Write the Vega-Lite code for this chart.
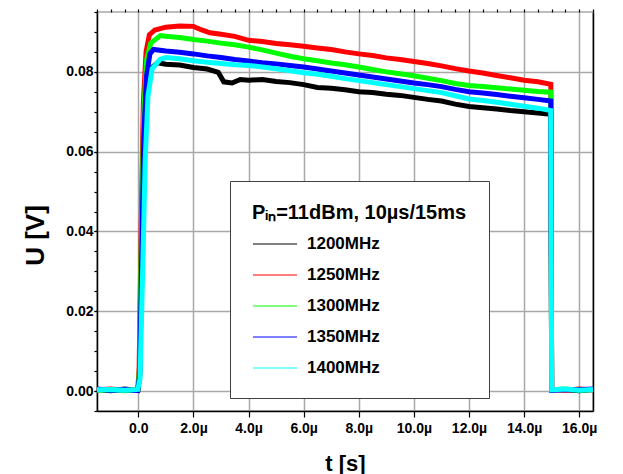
{
  "$schema": "https://vega.github.io/schema/vega-lite/v6.json",
  "width": 496,
  "height": 399,
  "autosize": {"type": "none"},
  "padding": {"left": 97, "top": 12, "right": 30, "bottom": 63},
  "background": "white",
  "config": {
    "font": "Liberation Sans",
    "view": {"stroke": "#a8a8a8", "strokeWidth": 1.5},
    "axis": {
      "labelFont": "Liberation Sans", "labelFontWeight": "bold", "labelFontSize": 14, "labelColor": "black",
      "domainColor": "black", "domainWidth": 1.5, "tickColor": "black", "tickWidth": 1.2,
      "titleFont": "Liberation Sans", "titleFontWeight": "bold", "titleColor": "black",
      "gridColor": "#a8a8a8", "gridWidth": 1.5, "gridOpacity": 1
    }
  },
  "datasets": {
    "traces": [
      {"f":"1200MHz","t":-1.5,"u":0.0004},{"f":"1200MHz","t":-1.0,"u":0.0001},{"f":"1200MHz","t":-0.5,"u":0.0005},{"f":"1200MHz","t":-0.02,"u":0.0002},
      {"f":"1200MHz","t":0.05,"u":0.004},{"f":"1200MHz","t":0.12,"u":0.030},{"f":"1200MHz","t":0.2,"u":0.062},{"f":"1200MHz","t":0.3,"u":0.076},
      {"f":"1200MHz","t":0.45,"u":0.0808},{"f":"1200MHz","t":0.7,"u":0.0823},{"f":"1200MHz","t":1.0,"u":0.0819},{"f":"1200MHz","t":1.5,"u":0.0817},
      {"f":"1200MHz","t":2.0,"u":0.0811},{"f":"1200MHz","t":2.5,"u":0.0807},{"f":"1200MHz","t":2.9,"u":0.0799},{"f":"1200MHz","t":3.1,"u":0.0775},
      {"f":"1200MHz","t":3.4,"u":0.0772},{"f":"1200MHz","t":3.7,"u":0.0781},{"f":"1200MHz","t":4.0,"u":0.0779},{"f":"1200MHz","t":4.5,"u":0.0781},
      {"f":"1200MHz","t":5.0,"u":0.0776},{"f":"1200MHz","t":5.5,"u":0.0773},{"f":"1200MHz","t":6.0,"u":0.0768},{"f":"1200MHz","t":6.5,"u":0.0761},
      {"f":"1200MHz","t":7.0,"u":0.0759},{"f":"1200MHz","t":7.5,"u":0.0755},{"f":"1200MHz","t":8.0,"u":0.0750},{"f":"1200MHz","t":8.5,"u":0.0748},
      {"f":"1200MHz","t":9.0,"u":0.0744},{"f":"1200MHz","t":9.5,"u":0.0741},{"f":"1200MHz","t":10.0,"u":0.0736},{"f":"1200MHz","t":10.5,"u":0.0731},
      {"f":"1200MHz","t":11.0,"u":0.0727},{"f":"1200MHz","t":11.5,"u":0.0719},{"f":"1200MHz","t":12.0,"u":0.0713},{"f":"1200MHz","t":12.5,"u":0.0710},
      {"f":"1200MHz","t":13.0,"u":0.0707},{"f":"1200MHz","t":13.5,"u":0.0703},{"f":"1200MHz","t":14.0,"u":0.0700},{"f":"1200MHz","t":14.5,"u":0.0697},
      {"f":"1200MHz","t":14.97,"u":0.0694},{"f":"1200MHz","t":15.0,"u":0.0003},{"f":"1200MHz","t":15.5,"u":0.0004},{"f":"1200MHz","t":16.0,"u":0.0001},{"f":"1200MHz","t":16.5,"u":0.0004},

      {"f":"1250MHz","t":-1.5,"u":0.0003},{"f":"1250MHz","t":-1.0,"u":0.0005},{"f":"1250MHz","t":-0.5,"u":0.0002},{"f":"1250MHz","t":-0.02,"u":0.0004},
      {"f":"1250MHz","t":0.03,"u":0.006},{"f":"1250MHz","t":0.1,"u":0.040},{"f":"1250MHz","t":0.18,"u":0.072},{"f":"1250MHz","t":0.28,"u":0.085},
      {"f":"1250MHz","t":0.4,"u":0.0893},{"f":"1250MHz","t":0.6,"u":0.0905},{"f":"1250MHz","t":1.0,"u":0.0912},{"f":"1250MHz","t":1.5,"u":0.0915},
      {"f":"1250MHz","t":2.0,"u":0.0914},{"f":"1250MHz","t":2.3,"u":0.0905},{"f":"1250MHz","t":2.6,"u":0.0898},{"f":"1250MHz","t":3.0,"u":0.0894},
      {"f":"1250MHz","t":3.5,"u":0.0889},{"f":"1250MHz","t":4.0,"u":0.0879},{"f":"1250MHz","t":4.5,"u":0.0876},{"f":"1250MHz","t":5.0,"u":0.0871},
      {"f":"1250MHz","t":5.5,"u":0.0868},{"f":"1250MHz","t":6.0,"u":0.0864},{"f":"1250MHz","t":6.5,"u":0.0860},{"f":"1250MHz","t":7.0,"u":0.0856},
      {"f":"1250MHz","t":7.5,"u":0.0850},{"f":"1250MHz","t":8.0,"u":0.0845},{"f":"1250MHz","t":8.5,"u":0.0841},{"f":"1250MHz","t":9.0,"u":0.0835},
      {"f":"1250MHz","t":9.5,"u":0.0831},{"f":"1250MHz","t":10.0,"u":0.0826},{"f":"1250MHz","t":10.5,"u":0.0821},{"f":"1250MHz","t":11.0,"u":0.0815},
      {"f":"1250MHz","t":11.5,"u":0.0808},{"f":"1250MHz","t":12.0,"u":0.0802},{"f":"1250MHz","t":12.5,"u":0.0797},{"f":"1250MHz","t":13.0,"u":0.0791},
      {"f":"1250MHz","t":13.5,"u":0.0785},{"f":"1250MHz","t":14.0,"u":0.0779},{"f":"1250MHz","t":14.5,"u":0.0775},{"f":"1250MHz","t":14.97,"u":0.0769},
      {"f":"1250MHz","t":15.0,"u":0.0004},{"f":"1250MHz","t":15.5,"u":0.0002},{"f":"1250MHz","t":16.0,"u":0.0005},{"f":"1250MHz","t":16.5,"u":0.0003},

      {"f":"1300MHz","t":-1.5,"u":0.0002},{"f":"1300MHz","t":-1.0,"u":0.0004},{"f":"1300MHz","t":-0.5,"u":0.0001},{"f":"1300MHz","t":-0.02,"u":0.0003},
      {"f":"1300MHz","t":0.04,"u":0.005},{"f":"1300MHz","t":0.11,"u":0.038},{"f":"1300MHz","t":0.2,"u":0.070},{"f":"1300MHz","t":0.3,"u":0.083},
      {"f":"1300MHz","t":0.45,"u":0.0872},{"f":"1300MHz","t":0.8,"u":0.0891},{"f":"1300MHz","t":1.0,"u":0.0889},{"f":"1300MHz","t":1.5,"u":0.0886},
      {"f":"1300MHz","t":2.0,"u":0.0881},{"f":"1300MHz","t":2.5,"u":0.0877},{"f":"1300MHz","t":3.0,"u":0.0872},{"f":"1300MHz","t":3.5,"u":0.0868},
      {"f":"1300MHz","t":4.0,"u":0.0862},{"f":"1300MHz","t":4.5,"u":0.0855},{"f":"1300MHz","t":5.0,"u":0.0847},{"f":"1300MHz","t":5.5,"u":0.0839},
      {"f":"1300MHz","t":6.0,"u":0.0833},{"f":"1300MHz","t":6.5,"u":0.0828},{"f":"1300MHz","t":7.0,"u":0.0822},{"f":"1300MHz","t":7.5,"u":0.0818},
      {"f":"1300MHz","t":8.0,"u":0.0812},{"f":"1300MHz","t":8.5,"u":0.0806},{"f":"1300MHz","t":9.0,"u":0.0800},{"f":"1300MHz","t":9.5,"u":0.0795},
      {"f":"1300MHz","t":10.0,"u":0.0790},{"f":"1300MHz","t":10.5,"u":0.0784},{"f":"1300MHz","t":11.0,"u":0.0778},{"f":"1300MHz","t":11.5,"u":0.0771},
      {"f":"1300MHz","t":12.0,"u":0.0766},{"f":"1300MHz","t":12.5,"u":0.0763},{"f":"1300MHz","t":13.0,"u":0.0760},{"f":"1300MHz","t":13.5,"u":0.0757},
      {"f":"1300MHz","t":14.0,"u":0.0754},{"f":"1300MHz","t":14.5,"u":0.0751},{"f":"1300MHz","t":14.97,"u":0.0749},{"f":"1300MHz","t":15.0,"u":0.0003},
      {"f":"1300MHz","t":15.5,"u":0.0005},{"f":"1300MHz","t":16.0,"u":0.0002},{"f":"1300MHz","t":16.5,"u":0.0004},

      {"f":"1350MHz","t":-1.5,"u":0.0005},{"f":"1350MHz","t":-1.0,"u":0.0002},{"f":"1350MHz","t":-0.5,"u":0.0004},{"f":"1350MHz","t":-0.02,"u":0.0001},
      {"f":"1350MHz","t":0.05,"u":0.004},{"f":"1350MHz","t":0.12,"u":0.032},{"f":"1350MHz","t":0.2,"u":0.064},{"f":"1350MHz","t":0.3,"u":0.079},
      {"f":"1350MHz","t":0.42,"u":0.0845},{"f":"1350MHz","t":0.55,"u":0.0856},{"f":"1350MHz","t":1.0,"u":0.0852},{"f":"1350MHz","t":1.5,"u":0.0849},
      {"f":"1350MHz","t":2.0,"u":0.0845},{"f":"1350MHz","t":2.5,"u":0.0840},{"f":"1350MHz","t":3.0,"u":0.0836},{"f":"1350MHz","t":3.5,"u":0.0831},
      {"f":"1350MHz","t":4.0,"u":0.0827},{"f":"1350MHz","t":4.5,"u":0.0823},{"f":"1350MHz","t":5.0,"u":0.0820},{"f":"1350MHz","t":5.5,"u":0.0816},
      {"f":"1350MHz","t":6.0,"u":0.0812},{"f":"1350MHz","t":6.5,"u":0.0807},{"f":"1350MHz","t":7.0,"u":0.0802},{"f":"1350MHz","t":7.5,"u":0.0797},
      {"f":"1350MHz","t":8.0,"u":0.0792},{"f":"1350MHz","t":8.5,"u":0.0787},{"f":"1350MHz","t":9.0,"u":0.0782},{"f":"1350MHz","t":9.5,"u":0.0777},
      {"f":"1350MHz","t":10.0,"u":0.0772},{"f":"1350MHz","t":10.5,"u":0.0768},{"f":"1350MHz","t":11.0,"u":0.0763},{"f":"1350MHz","t":11.5,"u":0.0756},
      {"f":"1350MHz","t":12.0,"u":0.0750},{"f":"1350MHz","t":12.5,"u":0.0747},{"f":"1350MHz","t":13.0,"u":0.0743},{"f":"1350MHz","t":13.5,"u":0.0739},
      {"f":"1350MHz","t":14.0,"u":0.0735},{"f":"1350MHz","t":14.5,"u":0.0731},{"f":"1350MHz","t":14.97,"u":0.0727},{"f":"1350MHz","t":15.0,"u":0.0002},
      {"f":"1350MHz","t":15.5,"u":0.0004},{"f":"1350MHz","t":16.0,"u":0.0003},{"f":"1350MHz","t":16.5,"u":0.0005},

      {"f":"1400MHz","t":-1.5,"u":0.0003},{"f":"1400MHz","t":-1.0,"u":0.0004},{"f":"1400MHz","t":-0.5,"u":0.0002},{"f":"1400MHz","t":-0.02,"u":0.0004},
      {"f":"1400MHz","t":0.06,"u":0.003},{"f":"1400MHz","t":0.15,"u":0.028},{"f":"1400MHz","t":0.25,"u":0.058},{"f":"1400MHz","t":0.35,"u":0.074},
      {"f":"1400MHz","t":0.5,"u":0.0808},{"f":"1400MHz","t":0.8,"u":0.0832},{"f":"1400MHz","t":1.0,"u":0.0836},{"f":"1400MHz","t":1.5,"u":0.0833},
      {"f":"1400MHz","t":2.0,"u":0.0828},{"f":"1400MHz","t":2.5,"u":0.0824},{"f":"1400MHz","t":3.0,"u":0.0821},{"f":"1400MHz","t":3.5,"u":0.0818},
      {"f":"1400MHz","t":4.0,"u":0.0816},{"f":"1400MHz","t":4.5,"u":0.0812},{"f":"1400MHz","t":5.0,"u":0.0808},{"f":"1400MHz","t":5.5,"u":0.0803},
      {"f":"1400MHz","t":6.0,"u":0.0798},{"f":"1400MHz","t":6.5,"u":0.0794},{"f":"1400MHz","t":7.0,"u":0.0789},{"f":"1400MHz","t":7.5,"u":0.0783},
      {"f":"1400MHz","t":8.0,"u":0.0778},{"f":"1400MHz","t":8.5,"u":0.0773},{"f":"1400MHz","t":9.0,"u":0.0768},{"f":"1400MHz","t":9.5,"u":0.0763},
      {"f":"1400MHz","t":10.0,"u":0.0758},{"f":"1400MHz","t":10.5,"u":0.0753},{"f":"1400MHz","t":11.0,"u":0.0748},{"f":"1400MHz","t":11.5,"u":0.0740},
      {"f":"1400MHz","t":12.0,"u":0.0732},{"f":"1400MHz","t":12.5,"u":0.0728},{"f":"1400MHz","t":13.0,"u":0.0724},{"f":"1400MHz","t":13.5,"u":0.0719},
      {"f":"1400MHz","t":14.0,"u":0.0714},{"f":"1400MHz","t":14.5,"u":0.0709},{"f":"1400MHz","t":14.97,"u":0.0703},{"f":"1400MHz","t":15.0,"u":0.0003},
      {"f":"1400MHz","t":15.5,"u":0.0005},{"f":"1400MHz","t":16.0,"u":0.0002},{"f":"1400MHz","t":16.5,"u":0.0004}
    ],
    "frame": [{"t": 0, "u": 0}]
  },
  "layer": [
    {
      "data": {"name": "traces"},
      "mark": {"type": "line", "strokeWidth": 5, "interpolate": "linear"},
      "encoding": {
        "x": {
          "field": "t", "type": "quantitative",
          "scale": {"domain": [-1.5, 16.5], "nice": false, "zero": false},
          "axis": {
            "title": "t [s]", "titleFontSize": 22, "titleY": 52, "titleBaseline": "middle",
            "values": [0, 2, 4, 6, 8, 10, 12, 14, 16],
            "labelExpr": "datum.value == 0 ? '0.0' : format(datum.value, '.1f') + 'µ'",
            "grid": true, "tickSize": 6, "labelPadding": 4, "labelOverlap": false, "labelFlush": false
          }
        },
        "y": {
          "field": "u", "type": "quantitative",
          "scale": {"domain": [-0.005, 0.095], "nice": false, "zero": false},
          "axis": {
            "title": "U [V]", "titleFontSize": 26, "titleX": -62, "titleY": 223,
            "titleAlign": "center", "titleBaseline": "middle",
            "values": [0, 0.02, 0.04, 0.06, 0.08], "format": ".2f",
            "grid": true, "tickSize": 3, "labelPadding": 1, "labelOverlap": false, "labelFlush": false
          }
        },
        "color": {
          "field": "f", "type": "nominal",
          "scale": {
            "domain": ["1200MHz", "1250MHz", "1300MHz", "1350MHz", "1400MHz"],
            "range": ["#000000", "#ff0000", "#00ff00", "#0000ff", "#00ffff"]
          },
          "legend": {
            "title": "Pᵢₙ=11dBm, 10µs/15ms",
            "orient": "none", "legendX": 133, "legendY": 169, "direction": "vertical",
            "fillColor": "white", "strokeColor": "#404040", "padding": 22,
            "titleFont": "Liberation Sans", "titleFontSize": 20, "titleFontWeight": "bold", "titleColor": "black",
            "titleLimit": 400, "titlePadding": -2,
            "labelFont": "Liberation Sans", "labelFontSize": 17, "labelFontWeight": "bold", "labelColor": "black",
            "labelLimit": 300, "labelOffset": 9,
            "symbolType": "stroke", "symbolSize": 1936, "symbolStrokeWidth": 1.2, "rowPadding": -15
          }
        }
      }
    },
    {
      "data": {"name": "frame"},
      "mark": {"type": "point", "opacity": 0},
      "encoding": {
        "x": {
          "field": "t", "type": "quantitative",
          "scale": {"domain": [-1.5, 16.5], "nice": false, "zero": false},
          "axis": {
            "title": null, "labels": false, "grid": false, "domain": false, "tickSize": 3,
            "values": [-1.5,-1,-0.5,0,0.5,1,1.5,2,2.5,3,3.5,4,4.5,5,5.5,6,6.5,7,7.5,8,8.5,9,9.5,10,10.5,11,11.5,12,12.5,13,13.5,14,14.5,15,15.5,16,16.5]
          }
        },
        "y": {
          "field": "u", "type": "quantitative",
          "scale": {"domain": [-0.005, 0.095], "nice": false, "zero": false},
          "axis": {"orient": "right", "title": null, "labels": false, "ticks": false, "grid": false}
        }
      }
    },
    {
      "data": {"name": "frame"},
      "mark": {"type": "point", "opacity": 0},
      "encoding": {
        "x": {
          "field": "t", "type": "quantitative",
          "scale": {"domain": [-1.5, 16.5], "nice": false, "zero": false},
          "axis": null
        },
        "y": {
          "field": "u", "type": "quantitative",
          "scale": {"domain": [-0.005, 0.095], "nice": false, "zero": false},
          "axis": {
            "title": null, "labels": false, "grid": false, "domain": false, "tickSize": 3,
            "values": [-0.005,0,0.005,0.01,0.015,0.02,0.025,0.03,0.035,0.04,0.045,0.05,0.055,0.06,0.065,0.07,0.075,0.08,0.085,0.09,0.095]
          }
        }
      }
    }
  ],
  "resolve": {"axis": {"x": "independent", "y": "independent"}}
}
